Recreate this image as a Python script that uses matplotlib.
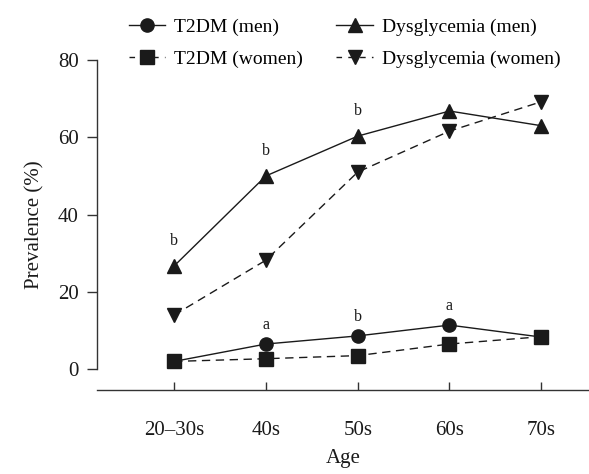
import matplotlib
matplotlib.use("Agg")
import matplotlib.pyplot as plt
from matplotlib.lines import Line2D

plt.rcParams['font.family'] = ['Liberation Serif', 'DejaVu Serif']

ages = ["20\u201330s", "40s", "50s", "60s", "70s"]
t2dm_men = [2.0, 6.5, 8.6, 11.4, 8.3]
t2dm_women = [2.0, 2.7, 3.5, 6.5, 8.4]
dys_men = [26.7, 50.0, 60.3, 66.8, 63.0]
dys_women = [14.0, 28.2, 51.0, 61.6, 69.2]

# significance annotations: (index, label)
ann_dys = [(0, "b"), (1, "b"), (2, "b")]
ann_t2dm = [(1, "a"), (2, "b"), (3, "a")]

fs = 15
fig = plt.figure(figsize=(5.89, 4.74), dpi=100)
ax = fig.add_axes([0.1647, 0.1772, 0.8353, 0.6962])
x = list(range(len(ages)))
c = '#1a1a1a'
ms = 9.5
ax.plot(x, dys_men, color=c, lw=1.0, ls='-', marker='^', ms=ms, label='Dysglycemia (men)')
ax.plot(x, dys_women, color=c, lw=1.0, ls=(0, (6, 4)), marker='v', ms=ms, label='Dysglycemia (women)')
ax.plot(x, t2dm_men, color=c, lw=1.0, ls='-', marker='o', ms=ms, label='T2DM (men)')
ax.plot(x, t2dm_women, color=c, lw=1.0, ls=(0, (6, 4)), marker='s', ms=ms, label='T2DM (women)')

for i, lab in ann_dys:
    ax.annotate(lab, (x[i], dys_men[i]), xytext=(0, 12), textcoords='offset points',
                ha='center', va='bottom', fontsize=11.5, color=c)
for i, lab in ann_t2dm:
    ax.annotate(lab, (x[i], t2dm_men[i]), xytext=(0, 8), textcoords='offset points',
                ha='center', va='bottom', fontsize=11.5, color=c)

ax.set_xlim(-0.84, 4.52)
ax.set_ylim(-5.4, 80)
ax.set_yticks([0, 20, 40, 60, 80])
ax.set_xticks(x)
ax.set_xticklabels(ages)
ax.spines['top'].set_visible(False)
ax.spines['right'].set_visible(False)
ax.spines['left'].set_bounds(0, 80)
for s in ['left', 'bottom']:
    ax.spines[s].set_linewidth(1.0)
    ax.spines[s].set_color('#333333')
ax.tick_params(axis='y', direction='out', length=7, width=1, labelsize=fs, pad=6, colors='#333333', labelcolor='#1a1a1a')
ax.tick_params(axis='x', direction='in', length=6, width=1, labelsize=fs, pad=22, colors='#333333', labelcolor='#1a1a1a')
ax.set_ylabel('Prevalence (%)', fontsize=fs, labelpad=10, color='#1a1a1a')
ax.set_xlabel('Age', fontsize=fs, labelpad=7, color='#1a1a1a')

handles = [
    Line2D([], [], color=c, lw=1.0, ls='-', marker='o', ms=ms),
    Line2D([], [], color=c, lw=1.0, ls=(0, (4, 4.5)), marker='s', ms=ms),
    Line2D([], [], color=c, lw=1.0, ls='-', marker='^', ms=ms),
    Line2D([], [], color=c, lw=1.0, ls=(0, (4, 4.5)), marker='v', ms=ms),
]
labels = ['T2DM (men)', 'T2DM (women)', 'Dysglycemia (men)', 'Dysglycemia (women)']
fig.legend(handles, labels, ncol=2, loc='upper left', bbox_to_anchor=(0.205, 0.978),
           frameon=False, fontsize=14, handlelength=1.9, handletextpad=0.45,
           columnspacing=1.7, labelspacing=0.75, borderaxespad=0)

fig.savefig('out.png', dpi=100)
